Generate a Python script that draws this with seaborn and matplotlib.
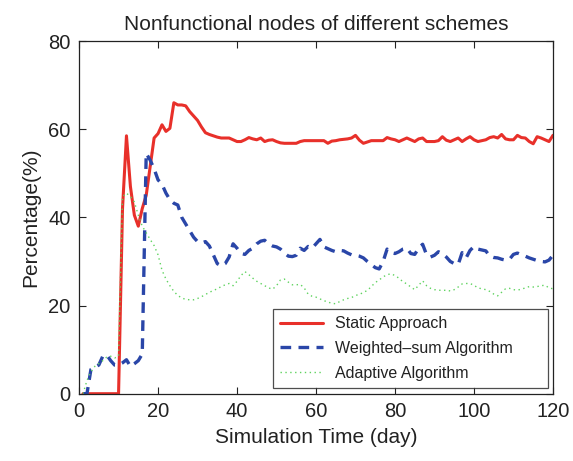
import numpy as np
import pandas as pd
import matplotlib
matplotlib.use("Agg")
import matplotlib.pyplot as plt
import seaborn as sns

days = list(range(1, 121))

static_approach = [
    0, 0, 0, 0, 0, 0, 0, 0, 0, 0,
    42, 58.5, 47, 40.5, 38, 42, 45, 51.5, 58, 59,
    61, 59.5, 60.2, 66, 65.5, 65.5, 65.3, 64, 63, 62,
    60.5, 59.2, 58.8, 58.5, 58.2, 58, 58, 58, 57.6, 57.2,
    57.2, 57.6, 58.1, 57.8, 57.6, 58, 57.2, 57.5, 57.6, 57.2,
    56.9, 56.8, 56.8, 56.8, 56.8, 57.2, 57.4, 57.4, 57.4, 57.4,
    57.4, 57.4, 56.8, 57.3, 57.4, 57.6, 57.7, 57.8, 58, 58.6,
    57.5, 56.8, 57.1, 57.4, 57.4, 57.4, 57.4, 58.1, 57.8, 57.6,
    57.2, 57.6, 58, 57.6, 57.2, 57.8, 58, 57.2, 57.2, 57.2,
    57.4, 58.3, 57.5, 57.2, 57.6, 58, 57.2, 57.8, 58.3, 57.6,
    57.2, 57.4, 57.6, 58.1, 58.3, 58, 58.8, 57.8, 57.6, 57.6,
    58.6, 58.1, 58, 57.2, 56.7, 58.3, 58, 57.6, 57.2, 58.6,
]

weighted_sum = [
    0, 0, 5.5, 6, 6.5, 8.5, 8.8, 7.5, 6.5, 6.5,
    7, 7.7, 6.2, 6.8, 7.5, 9, 54.5, 53, 51, 48.5,
    47.5, 45.5, 44, 43.2, 42.8, 40, 38.5, 37, 35.5, 34.5,
    34.2, 34.5, 33.5, 31.5, 29.5, 29, 29.5, 31, 34, 33,
    31.8, 31.6, 32.5, 33, 34, 34.6, 34.8, 34, 33.5, 33.3,
    32.8, 31.9, 31.2, 31.1, 31.4, 33, 32.5, 33.4, 33, 34,
    35, 33.3, 32.9, 32.5, 32.2, 32.5, 32.4, 31.9, 31.5, 31.4,
    31.2, 30.8, 30, 29.3, 28.6, 28.3, 30, 32.8, 32, 31.8,
    32.2, 32.8, 33, 31.8, 31.6, 33, 33.9, 31.5, 31, 31.4,
    32.2, 31.8, 31, 30, 29.5, 29.3, 32, 30.8, 32.5, 33.4,
    32.8, 32.6, 32.4, 31.2, 30.9, 30.8, 30.5, 30.3, 30.5, 31.6,
    31.9, 31.5, 31.2, 30.8, 30.5, 30.2, 30, 29.9, 30.3, 31.4,
]

adaptive = [
    0, 3, 5, 6.2, 6.8, 7.5, 8.3, 8.5, 8.1, 8.5,
    44.7, 45.5, 44.7, 43.5, 40.5, 38, 36.5, 35, 33.6, 31.5,
    28, 26, 24.5, 23.2, 22.3, 21.7, 21.4, 21.3, 21.3, 21.6,
    22, 22.5, 23, 23.4, 23.8, 24.3, 24.7, 25, 24.5, 25.5,
    26.8, 27.7, 27, 26.2, 25.5, 25, 24.5, 24, 23.7, 24.5,
    25.8, 26, 25.3, 24.7, 24.7, 24.8, 24, 22.6, 22.1, 21.9,
    21.5, 21.1, 20.8, 20.5, 20.4, 20.9, 21.3, 21.6, 21.8, 22.3,
    22.5, 23, 23.4, 24.3, 25.2, 25.8, 26.5, 27, 27.2, 26.8,
    26.2, 25.4, 24.9, 24.2, 23.6, 24.6, 25.6, 24.5, 23.9, 23.6,
    23.5, 23.4, 23.5, 23.3, 23.6, 24.2, 24.9, 25, 25, 24.6,
    24, 23.8, 23.6, 23.2, 22.6, 22.2, 23, 23.8, 23.9, 23.6,
    23.5, 23.7, 24, 24.3, 24.2, 24.3, 24.5, 24.6, 24, 23.8,
]

scheme_names = ["Static Approach", "Weighted\u2013sum Algorithm", "Adaptive Algorithm"]
x_ticks = [0, 20, 40, 60, 80, 100, 120]
y_ticks = [0, 20, 40, 60, 80]

sns.set_style("ticks")
plt.rcParams["font.family"] = ["Liberation Sans", "DejaVu Sans"]

fig = plt.figure(figsize=(5.73, 4.61), dpi=100)
ax = fig.add_axes([0.138, 0.146, 0.827, 0.765])

series = [
    (static_approach, scheme_names[0], "#e8302a", dict(linewidth=2.2, linestyle="-")),
    (weighted_sum, scheme_names[1], "#2a46a8", dict(linewidth=2.4, dashes=(3.2, 2.2))),
    (adaptive, scheme_names[2], "#5fd35f", dict(linewidth=1.0, linestyle=(0, (1, 2.5)))),
]

for values, name, color, style in series:
    df = pd.DataFrame({"day": days, "pct": values})
    sns.lineplot(data=df, x="day", y="pct", ax=ax, color=color, label=name, **style)

ax.set_xlim(0, 120)
ax.set_ylim(0, 80)
ax.set_xticks(x_ticks)
ax.set_yticks(y_ticks)
ax.tick_params(direction="in", top=True, right=True, labelsize=14.5, length=5,
               width=0.8, colors="#222222", pad=6)
for sp in ax.spines.values():
    sp.set_visible(True)
    sp.set_linewidth(0.9)
    sp.set_color("#222222")

ax.set_xlabel("Simulation Time (day)", fontsize=15, color="#222222", labelpad=5)
ax.set_ylabel("Percentage(%)", fontsize=15, color="#222222", labelpad=6)
ax.set_title("Nonfunctional nodes of different schemes", fontsize=15, color="#222222", pad=8)

leg = ax.legend(loc="lower left", bbox_to_anchor=(0.409, 0.017, 0.580, 0.232),
                mode="expand", fontsize=11.5, frameon=True, fancybox=False,
                edgecolor="#222222", handlelength=2.7, borderpad=0.45,
                labelspacing=0.6, borderaxespad=0.0, handletextpad=0.75)
leg.get_frame().set_linewidth(0.9)
for t in leg.get_texts():
    t.set_color("#222222")

fig.savefig("out.png", dpi=100, facecolor="white")
